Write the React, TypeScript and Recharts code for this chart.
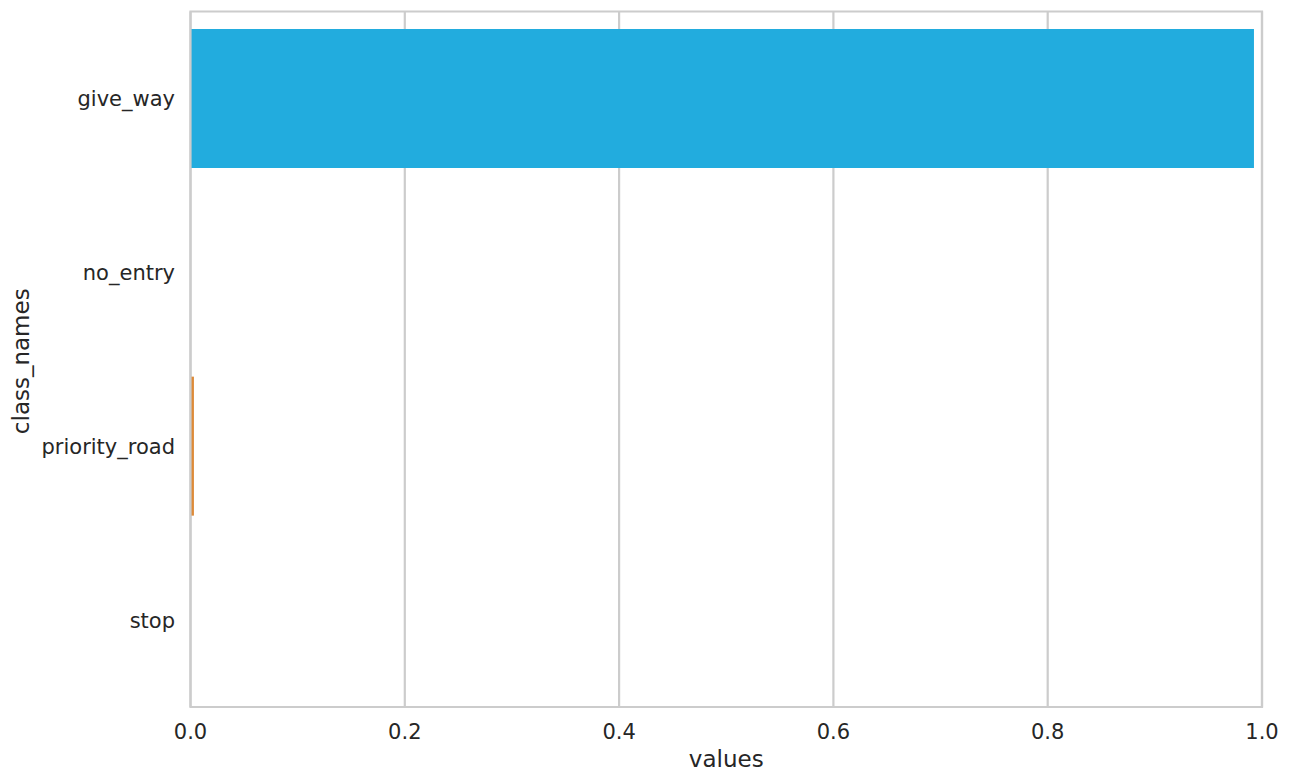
import React from "react";
import { BarChart, Bar, XAxis, YAxis, CartesianGrid, Cell, ReferenceArea, Label } from "recharts";

const classNames = ["give_way", "no_entry", "priority_road", "stop"];
const values = [0.9925, 0.0002, 0.0032, 0.0003];
const barColors = ["#22acde", "#e8e8e8", "#dd8a38", "#e8e8e8"];
const xTicks = [0, 0.2, 0.4, 0.6, 0.8, 1.0];

const data = classNames.map((name, i) => ({ name, value: values[i] }));
const font = "'DejaVu Sans', sans-serif";
const ink = "#262626";
const line = "#cccccc";

export default function App() {
  return (
    <div style={{ position: "absolute", left: 0, top: 0, width: 1290, height: 783, background: "#fff" }}>
      <BarChart
        width={1290}
        height={783}
        data={data}
        layout="vertical"
        barCategoryGap="10%"
        margin={{ top: 11.5, right: 28, bottom: 0, left: 0 }}
      >
        <CartesianGrid horizontal={false} stroke={line} strokeWidth={2.2} />
        <XAxis
          type="number"
          domain={[0, 1]}
          ticks={xTicks}
          tickFormatter={(v: number) => v.toFixed(1)}
          tickLine={false}
          axisLine={false}
          tickMargin={11}
          tick={{ fontSize: 21, fill: ink, fontFamily: font }}
          height={76}
        >
          <Label value="values" position="insideBottom" offset={16} style={{ fontSize: 23, fill: ink, fontFamily: font }} />
        </XAxis>
        <YAxis
          type="category"
          dataKey="name"
          width={190.5}
          tickLine={false}
          axisLine={false}
          tickMargin={15.5}
          tickSize={0}
          tick={{ fontSize: 21, fill: ink, fontFamily: font }}
        >
          <Label value="class_names" angle={-90} position="insideLeft" offset={0} dx={21} dy={2} style={{ fontSize: 23, fill: ink, fontFamily: font, textAnchor: "middle" }} />
        </YAxis>
        <Bar dataKey="value" isAnimationActive={false}>
          {data.map((d, i) => (
            <Cell key={d.name} fill={barColors[i]} />
          ))}
        </Bar>
        <ReferenceArea x1={0} x2={1} fill="none" stroke={line} strokeWidth={2.2} ifOverflow="visible" zIndex={900} />
      </BarChart>
    </div>
  );
}
